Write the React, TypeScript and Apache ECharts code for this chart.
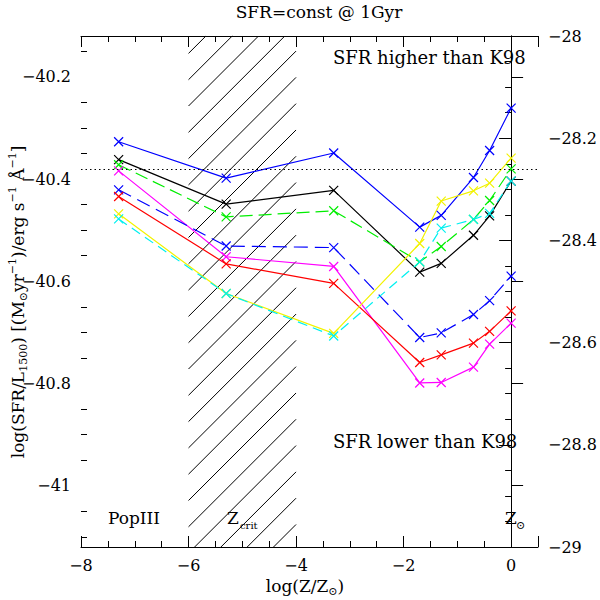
import React, { useEffect, useRef } from 'react';
import * as echarts from 'echarts';

// log(Z/Zsun) of the model grid
const zLog = [-7.3, -5.3, -3.3, -1.7, -1.3, -0.7, -0.4, 0];

// log(SFR/L1500) for each model track
const blueSolid = [-40.327, -40.398, -40.349, -40.494, -40.471, -40.397, -40.344, -40.261];
const blackSolid = [-40.362, -40.449, -40.422, -40.582, -40.565, -40.51, -40.472, -40.404];
const greenDashed = [-40.372, -40.474, -40.462, -40.562, -40.532, -40.479, -40.442, -40.38];
const magentaSolid = [-40.384, -40.552, -40.571, -40.799, -40.798, -40.768, -40.723, -40.682];
const blueDashed = [-40.421, -40.531, -40.534, -40.71, -40.701, -40.665, -40.638, -40.59];
const redSolid = [-40.434, -40.566, -40.604, -40.759, -40.744, -40.721, -40.698, -40.658];
const yellowSolid = [-40.468, -40.624, -40.702, -40.526, -40.443, -40.423, -40.408, -40.359];
const cyanDashed = [-40.478, -40.624, -40.707, -40.562, -40.496, -40.479, -40.467, -40.404];

// K98 reference level
const k98Level = -40.38;
// critical metallicity band
const zCritBand = [-6, -4];

// axes
const xTicks = [-8, -6, -4, -2, 0];
const leftMajor = [-41, -40.8, -40.6, -40.4, -40.2];
const leftRange = [-41.12, -40.12];
const rightRange = [-29, -28];

const FONT = 'DejaVu Serif';
const CROSS = 'path://M0,0L10,10M10,0L0,10';

const fmt = (v: number) => {
  const r = Math.round(v * 10) / 10;
  const s = Number.isInteger(r) ? String(r) : r.toFixed(1);
  return s.replace('-', '\u2212');
};

const leftMinor: number[] = [];
for (let k = Math.ceil(leftRange[0] * 20); k <= Math.floor(leftRange[1] * 20); k++) {
  if (k % 4 !== 0) leftMinor.push(k / 20);
}

const mkSeries = (name: string, vals: number[], color: string, dash: number[] | 'solid') => ({
  name,
  type: 'line',
  xAxisIndex: 0,
  yAxisIndex: 0,
  data: zLog.map((x, i) => [x, vals[i]]),
  symbol: CROSS,
  symbolSize: 9,
  z: 3,
  lineStyle: { color, width: 1.2, type: dash },
  itemStyle: { color, borderColor: color, borderWidth: 1.2 },
});

const rich = {
  n: { fontFamily: FONT, fontSize: 17, fill: '#000', color: '#000' },
  sb: { fontFamily: FONT, fontSize: 11, fill: '#000', color: '#000', padding: [11, 0, 0, 0] },
  sp: { fontFamily: FONT, fontSize: 11, fill: '#000', color: '#000', padding: [0, 0, 11, 0] },
};

const tickLine = { color: '#000', width: 1 };

const txt = (text: string, x: number, y: number, size: number, align = 'left') => ({
  type: 'text',
  x,
  y,
  silent: true,
  style: { text, font: `${size}px "${FONT}"`, fill: '#000', align, verticalAlign: 'middle' },
});

const App: React.FC = () => {
  const chartRef = useRef<HTMLDivElement>(null);

  useEffect(() => {
    if (!chartRef.current) return;
    const chart = echarts.init(chartRef.current, null, { renderer: 'svg' });

    const xBase = {
      type: 'value',
      min: -8,
      max: 0.5,
      interval: 2,
      axisLine: { show: true, lineStyle: tickLine },
      axisTick: { show: true, inside: true, length: 11, lineStyle: tickLine },
      minorTick: { show: true, splitNumber: 4, length: 6, lineStyle: tickLine },
      splitLine: { show: false },
      minorSplitLine: { show: false },
    };

    chart.setOption({
      animation: false,
      grid: { left: 81, right: 62, top: 36, bottom: 53, containLabel: false, outerBoundsMode: 'none' },
      xAxis: [
        {
          ...xBase,
          position: 'bottom',
          axisLabel: {
            color: '#000',
            fontFamily: FONT,
            fontSize: 16,
            margin: 10,
            showMaxLabel: false,
            formatter: (v: number) => (xTicks.includes(v) ? fmt(v) : ''),
          },
        },
        { ...xBase, position: 'top', axisLabel: { show: false } },
      ],
      yAxis: [
        {
          type: 'value',
          position: 'left',
          min: leftRange[0],
          max: leftRange[1],
          axisLine: { show: true, lineStyle: tickLine },
          axisTick: { show: true, inside: true, length: 12, lineStyle: tickLine, customValues: leftMajor },
          axisLabel: {
            color: '#000',
            fontFamily: FONT,
            fontSize: 16,
            margin: 10,
            customValues: leftMajor,
            formatter: (v: number) => fmt(v),
          },
          splitLine: { show: false },
        },
        {
          type: 'value',
          position: 'right',
          min: rightRange[0],
          max: rightRange[1],
          interval: 0.2,
          axisLine: { show: true, lineStyle: tickLine },
          axisTick: { show: true, inside: true, length: 12, lineStyle: tickLine },
          minorTick: { show: true, splitNumber: 4, length: 6, lineStyle: tickLine },
          axisLabel: { color: '#000', fontFamily: FONT, fontSize: 16, margin: 10, formatter: (v: number) => fmt(v) },
          splitLine: { show: false },
          minorSplitLine: { show: false },
        },
        {
          type: 'value',
          position: 'left',
          min: leftRange[0],
          max: leftRange[1],
          axisLine: { show: false },
          axisTick: { show: true, inside: true, length: 6, lineStyle: tickLine, customValues: leftMinor },
          axisLabel: { show: false },
          splitLine: { show: false },
        },
      ],
      graphic: [
        txt('SFR=const @ 1Gyr', 319, 12, 17, 'center'),
        txt('SFR higher than K98', 333, 57, 18),
        txt('SFR lower than K98', 333, 441, 18),
        txt('PopIII', 108, 518, 17),
        txt('Z', 227, 518, 17),
        txt('crit', 240, 525, 10),
        txt('Z', 505, 518, 17),
        txt('\u2299', 516, 525, 11),
        {
          type: 'text',
          x: 305,
          y: 586,
          silent: true,
          style: { text: '{n|log(Z/Z}{sb|\u2299}{n|)}', rich, align: 'center', verticalAlign: 'middle' },
        },
        {
          type: 'text',
          x: 18,
          y: 302,
          rotation: Math.PI / 2,
          silent: true,
          style: {
            text: '{n|log(SFR/L}{sb|1500}{n|) [(M}{sb|\u2299}{n|yr}{sp|\u22121}{n|)/erg s}{sp|\u22121}{n| \u00c5}{sp|\u22121}{n|]}',
            rich,
            align: 'center',
            verticalAlign: 'middle',
          },
        },
      ],
      series: [
        {
          type: 'custom',
          xAxisIndex: 0,
          yAxisIndex: 0,
          silent: true,
          z: 1,
          data: [zCritBand],
          encode: { x: [0, 1] },
          renderItem: (_params: any, api: any) => {
            const [x0, y0] = api.coord([api.value(0), leftRange[1]]);
            const [x1, y1] = api.coord([api.value(1), leftRange[0]]);
            const step = 26.3;
            const children: any[] = [];
            for (let c = x0 + y0 + 17.4 - step * 2; c < x1 + y1 + step; c += step) {
              const xa = Math.max(x0, c - y1);
              const xb = Math.min(x1, c - y0);
              if (xb - xa < 0.5) continue;
              children.push({
                type: 'line',
                shape: { x1: xa, y1: c - xa, x2: xb, y2: c - xb },
                style: { stroke: '#000', lineWidth: 1 },
              });
            }
            return { type: 'group', children };
          },
        },
        {
          ...mkSeries('blue', blueSolid, '#0000ff', 'solid'),
          markLine: {
            silent: true,
            symbol: 'none',
            label: { show: false },
            lineStyle: { color: '#000', width: 1, type: [1.5, 3] },
            data: [{ yAxis: k98Level }],
          },
        },
        mkSeries('black', blackSolid, '#000000', 'solid'),
        mkSeries('green', greenDashed, '#00ee00', [13, 6]),
        mkSeries('magenta', magentaSolid, '#ff00ff', 'solid'),
        mkSeries('blueDashed', blueDashed, '#0000ff', [14, 7]),
        mkSeries('red', redSolid, '#ff0000', 'solid'),
        mkSeries('yellow', yellowSolid, '#f2f200', 'solid'),
        mkSeries('cyan', cyanDashed, '#00f0f0', [10, 6]),
      ],
    });

    return () => {
      chart.dispose();
    };
  }, []);

  return <div ref={chartRef} style={{ position: 'absolute', left: 0, top: 0, width: '600px', height: '600px' }}></div>;
};

export default App;
